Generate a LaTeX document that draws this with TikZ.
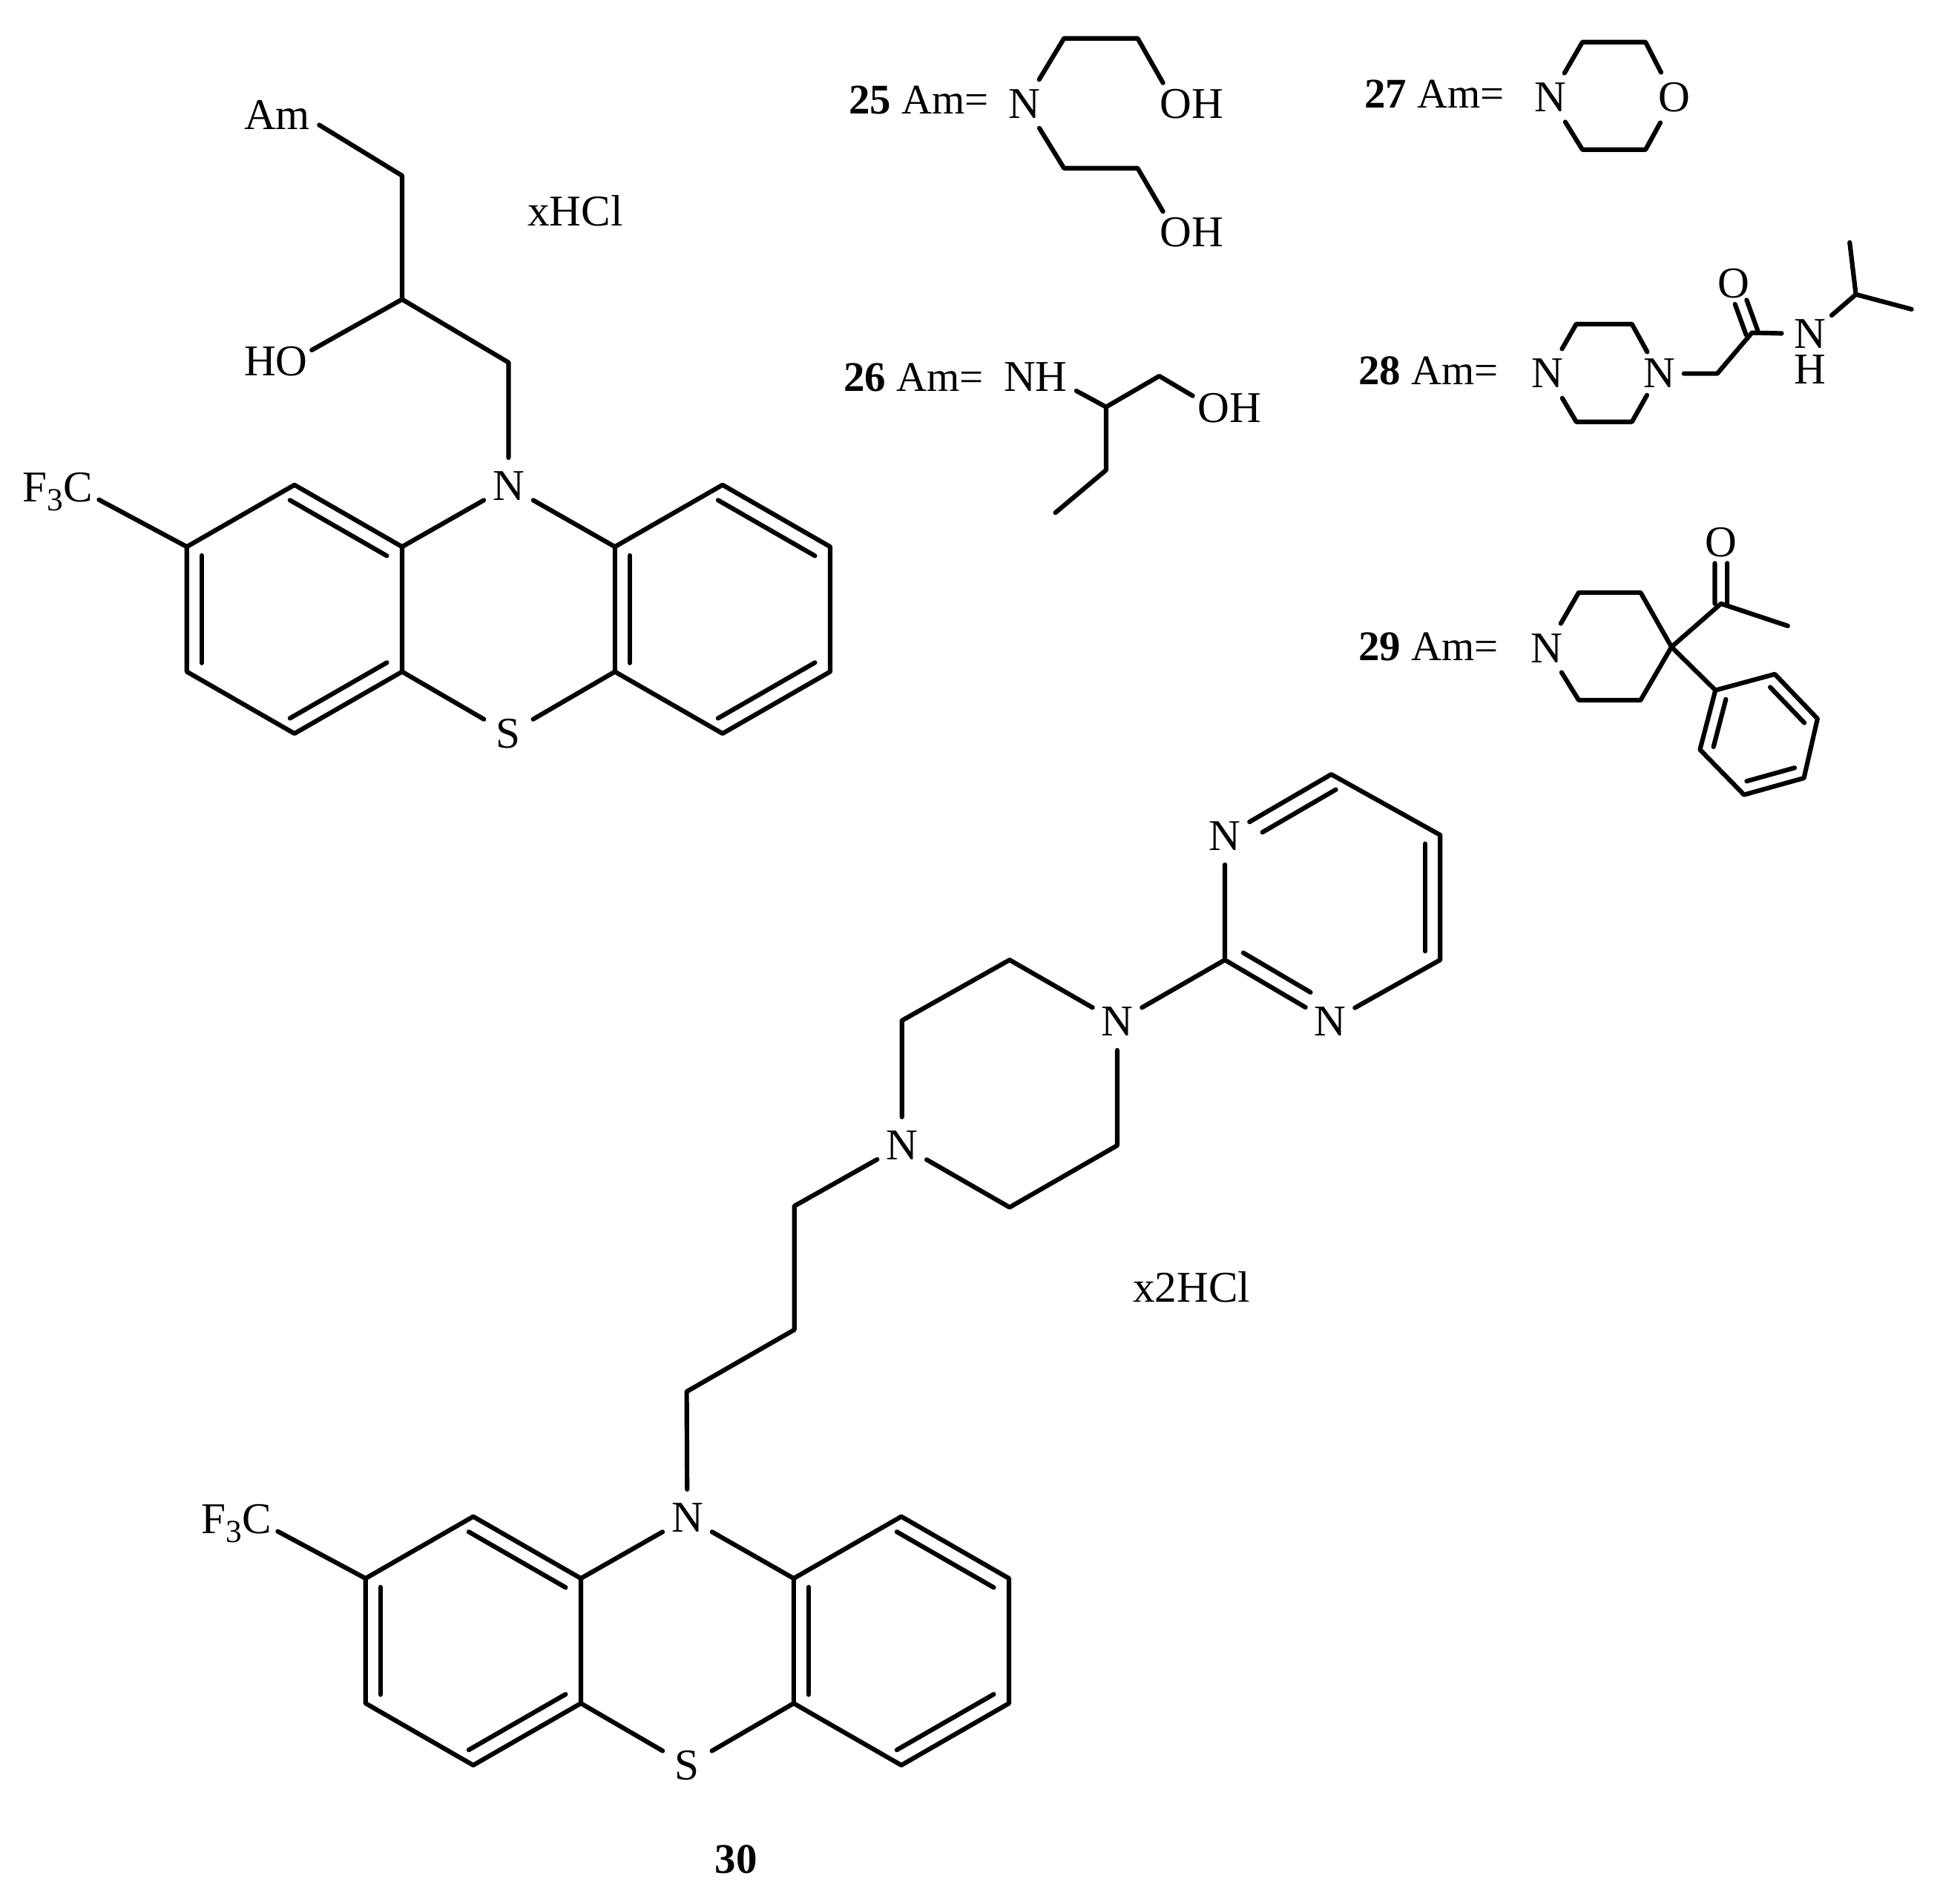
\documentclass[tikz,border=0pt]{standalone}
\usepackage{fontspec}
\setmainfont{Liberation Serif}
\usetikzlibrary{calc}
\newcommand{\lbl}{\fontsize{10.1}{11}\selectfont}
\newcommand{\lblcap}{\fontsize{9.7}{11}\selectfont}
\newcommand{\sbs}[1]{\raisebox{-0.45ex}{\fontsize{7.4}{8}\selectfont #1}}
\tikzset{
  bond/.style={line width=0.037cm,line cap=round,line join=round,black},
  atom/.style={circle,minimum size=0.46cm,inner sep=0pt,outer sep=0pt,font=\lbl,text height=0.23cm,text depth=0pt,text=black},
  txt/.style={inner sep=0pt,outer sep=0pt,font=\lbl,text height=0.23cm,text depth=0pt,text=black},
  caption text/.style={inner sep=0pt,outer sep=0pt,font=\lblcap,anchor=base west,text=black},
}
% inner (or offset) line of a double bond: a, b, from, to, offset to the left of a->b
\newcommand{\dbl}[5]{\draw[bond] ($(#1)!#3!(#2)!#5!90:(#2)$) -- ($(#1)!#4!(#2)!#5!90:(#2)$);}
% phenothiazine core, prefix #1
\newcommand{\core}[1]{
  \node[atom] (#1N) at (411,393) {N};
  \node[atom] (#1S) at (411,593) {S};
  \coordinate (#1a) at (151,442);
  \coordinate (#1b) at (238,392);
  \coordinate (#1c) at (325,442);
  \coordinate (#1d) at (325,543);
  \coordinate (#1e) at (238,593);
  \coordinate (#1f) at (151,543);
  \coordinate (#1g) at (497,442);
  \coordinate (#1h) at (584,392);
  \coordinate (#1i) at (671,442);
  \coordinate (#1j) at (671,543);
  \coordinate (#1k) at (584,593);
  \coordinate (#1l) at (497,543);
  \draw[bond] (#1a)--(#1b)--(#1c)--(#1d)--(#1e)--(#1f)--cycle;
  \draw[bond] (#1g)--(#1h)--(#1i)--(#1j)--(#1k)--(#1l)--cycle;
  \draw[bond] (#1N)--(#1c);
  \draw[bond] (#1N)--(#1g);
  \draw[bond] (#1S)--(#1d);
  \draw[bond] (#1S)--(#1l);
  \dbl{#1a}{#1f}{.07}{.93}{0.12cm}
  \dbl{#1e}{#1d}{.03}{.93}{0.125cm}
  \dbl{#1c}{#1b}{.07}{.97}{0.125cm}
  \dbl{#1g}{#1l}{.07}{.93}{0.12cm}
  \dbl{#1i}{#1h}{.07}{.97}{0.125cm}
  \dbl{#1k}{#1j}{.03}{.93}{0.125cm}
  \node[txt,anchor=east] (#1F) at (75,394) {F\sbs{3}C};
  \coordinate (#1Fe) at (80,404);
  \draw[bond] (#1Fe)--(#1a);
}
\begin{document}
\begin{tikzpicture}[x=0.01cm,y=-0.01cm]
\useasboundingbox (0,0) rectangle (1568,1539);
\fill[white] (0,0) rectangle (1568,1539);

% ---- top-left molecule
\core{p}
\node[txt] (am) at (224,93) {Am};
\node[txt] (ho) at (223,292) {HO};
\node[txt] (xhcl) at (465,171) {xHCl};
\coordinate (ame) at (258,101);
\coordinate (hoe) at (252,283);
\coordinate (c1) at (325,142);
\coordinate (c2) at (325,242);
\coordinate (c3) at (411,293);
\draw[bond] (ame)--(c1)--(c2)--(c3)--(pN);
\draw[bond] (hoe)--(c2);

% ---- 25
\node[caption text] (t25) at (686,92) {\textbf{25} Am=};
\node[atom] (n25) at (828,84) {N};
\coordinate (a25) at (860,31);
\coordinate (b25) at (919.5,31);
\coordinate (e25) at (940,67);
\coordinate (f25) at (860,136);
\coordinate (g25) at (919.5,136);
\coordinate (h25) at (940,171);
\node[txt] (oh25a) at (963,84) {OH};
\node[txt] (oh25b) at (963,188) {OH};
\draw[bond] (n25)--(a25)--(b25)--(e25);
\draw[bond] (n25)--(f25)--(g25)--(h25);

% ---- 26
\node[caption text] (t26) at (682,316) {\textbf{26} Am=};
\node[txt] (nh26) at (837,305) {NH};
\node[txt] (oh26) at (994,330) {OH};
\coordinate (nh26e) at (870,316);
\coordinate (a26) at (894,329);
\coordinate (b26) at (937,304);
\coordinate (e26) at (964,320);
\coordinate (c26) at (894,380);
\coordinate (d26) at (853,414.5);
\draw[bond] (nh26e)--(a26)--(b26)--(e26);
\draw[bond] (a26)--(c26)--(d26);

% ---- 27
\node[caption text] (t27) at (1103,87) {\textbf{27} Am=};
\node[atom] (n27) at (1253,79) {N};
\node[atom] (o27) at (1353,79) {O};
\coordinate (a27) at (1279,34);
\coordinate (b27) at (1330,34);
\coordinate (c27) at (1330,121);
\coordinate (d27) at (1279,121);
\draw[bond] (n27)--(a27)--(b27)--(o27);
\draw[bond] (n27)--(d27)--(c27)--(o27);

% ---- 28
\node[caption text] (t28) at (1098,311) {\textbf{28} Am=};
\node[atom] (n28a) at (1251,302) {N};
\node[atom,minimum size=0.4cm] (n28b) at (1341,302) {N};
\coordinate (a28) at (1274,262);
\coordinate (b28) at (1319,262);
\coordinate (c28) at (1319,341);
\coordinate (d28) at (1274,341);
\draw[bond] (n28a)--(a28)--(b28)--(n28b);
\draw[bond] (n28a)--(d28)--(c28)--(n28b);
\coordinate (e28) at (1388,302);
\coordinate (f28) at (1416,269);
\node[txt] (o28) at (1401.5,229) {O};
\node[atom] (n28c) at (1463,270) {N};
\node[txt] (h28) at (1463,299) {H};
\coordinate (g28) at (1500,238);
\coordinate (i28) at (1495,196);
\coordinate (j28) at (1545,250);
\draw[bond] (n28b)--(e28)--(f28)--(n28c)--(g28)--(i28);
\draw[bond] (g28)--(j28);
\dbl{f28}{o28}{0}{.62}{0.05cm}
\dbl{f28}{o28}{0}{.62}{-0.05cm}

% ---- 29
\node[caption text] (t29) at (1098,534) {\textbf{29} Am=};
\node[atom] (n29) at (1250,524) {N};
\coordinate (a29) at (1276,479);
\coordinate (b29) at (1326,479);
\coordinate (c29) at (1351,523);
\coordinate (d29) at (1326,566);
\coordinate (e29) at (1276,566);
\draw[bond] (n29)--(a29)--(b29)--(c29)--(d29)--(e29)--(n29);
\coordinate (f29) at (1391,488);
\node[txt] (o29) at (1391,438.5) {O};
\coordinate (g29) at (1445,506);
\draw[bond] (c29)--(f29)--(g29);
\dbl{f29}{o29}{0}{.66}{0.05cm}
\dbl{f29}{o29}{0}{.66}{-0.05cm}
\coordinate (r1) at (1386.5,558);
\coordinate (r2) at (1434.5,545);
\coordinate (r3) at (1469,581);
\coordinate (r4) at (1458,629);
\coordinate (r5) at (1409.6,642.5);
\coordinate (r6) at (1374,606);
\draw[bond] (c29)--(r1);
\draw[bond] (r1)--(r2)--(r3)--(r4)--(r5)--(r6)--cycle;
\dbl{r1}{r6}{.1}{.9}{0.1cm}
\dbl{r3}{r2}{.1}{.9}{0.1cm}
\dbl{r5}{r4}{.1}{.9}{0.1cm}

% ---- 30
\begin{scope}[shift={(144.5,834)}]
\core{q}
\end{scope}
\coordinate (p1) at (555,1125);
\coordinate (p2) at (642,1075);
\coordinate (p3) at (642,975);
\node[atom] (n30a) at (729,926) {N};
\node[atom] (n30b) at (903,826) {N};
\coordinate (u1) at (729,825);
\coordinate (u2) at (816,776);
\coordinate (u3) at (903,926);
\coordinate (u4) at (816,976);
\draw[bond] (qN)--(p1)--(p2)--(p3)--(n30a);
\draw[bond] (n30a)--(u1)--(u2)--(n30b);
\draw[bond] (n30a)--(u4)--(u3)--(n30b);
\coordinate (y1) at (990,776);
\node[atom] (n30c) at (990,676) {N};
\coordinate (y2) at (1076,626);
\coordinate (y3) at (1164,675);
\coordinate (y4) at (1164,776);
\node[atom] (n30d) at (1075,826) {N};
\draw[bond] (n30b)--(y1)--(n30c)--(y2)--(y3)--(y4)--(n30d)--(y1);
\dbl{y2}{n30c}{.03}{.72}{0.125cm}
\dbl{y1}{n30d}{.1}{.74}{0.125cm}
\dbl{y4}{y3}{.07}{.93}{0.12cm}
\node[txt] (x2hcl) at (963,1041) {x2HCl};
\node[txt,font=\lblcap\bfseries] (t30) at (595,1503) {30};
\end{tikzpicture}
\end{document}
